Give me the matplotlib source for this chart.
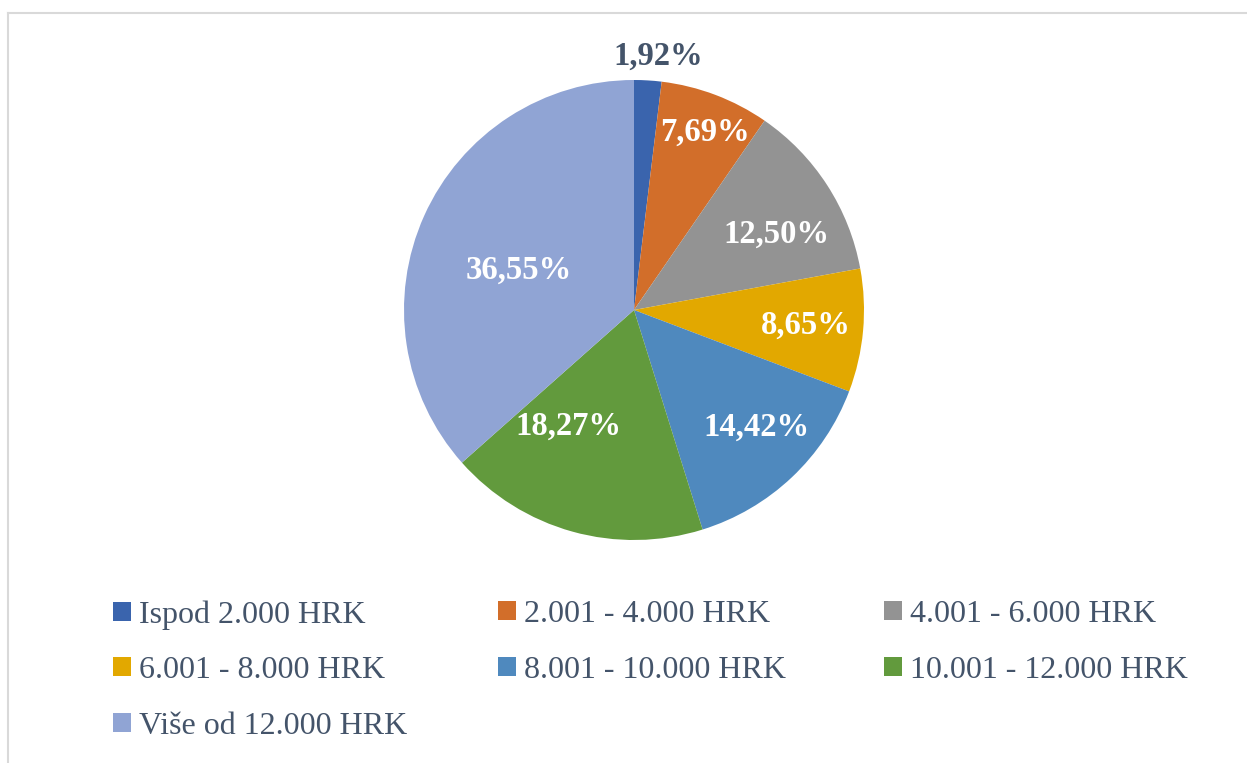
import numpy as np
import matplotlib
matplotlib.use("Agg")
import matplotlib.pyplot as plt
from matplotlib.patches import Patch
from matplotlib.lines import Line2D

# -------------------- 数据 --------------------
categories = ['Ispod 2.000 HRK', '2.001 - 4.000 HRK', '4.001 - 6.000 HRK',
              '6.001 - 8.000 HRK', '8.001 - 10.000 HRK', '10.001 - 12.000 HRK',
              'Više od 12.000 HRK']
shares = [1.92, 7.69, 12.50, 8.65, 14.42, 18.27, 36.55]
colors = ['#3A64AD', '#D26E2A', '#939393', '#E2A800', '#4F89BE', '#629A3D', '#90A4D4']

# položaj oznaka (udaljenost od središta, pomak kuta u stupnjevima)
label_r = [1.11, 0.83, 0.70, 0.75, 0.735, 0.58, 0.53]
label_dang = [2, 1, 5, 0, -3, 14, -5]

plt.rcParams['font.family'] = ['Liberation Serif', 'DejaVu Serif']
text_col = '#44546A'

W, H = 1247, 763
fig = plt.figure(figsize=(W / 100, H / 100), dpi=100)

# okvir
fig.add_artist(Line2D([8 / W, 1], [1 - 13 / H, 1 - 13 / H], color='#D9D9D9', lw=1.5))
fig.add_artist(Line2D([8 / W, 8 / W], [0, 1 - 13 / H], color='#D9D9D9', lw=1.5))

cx, cy, r = 634, H - 310, 230
ax = fig.add_axes([(cx - r) / W, (cy - r) / H, 2 * r / W, 2 * r / H])
wedges, _ = ax.pie(shares, colors=colors, startangle=90, counterclock=False,
                   radius=1, wedgeprops=dict(linewidth=0))
ax.set_xlim(-1, 1)
ax.set_ylim(-1, 1)
ax.set_aspect('equal')
ax.axis('off')

cum = np.cumsum([0] + shares[:-1])
for i, (v, c0) in enumerate(zip(shares, cum)):
    ang = np.deg2rad((c0 + v / 2) / 100 * 360 + label_dang[i])
    x = label_r[i] * np.sin(ang)
    y = label_r[i] * np.cos(ang)
    txt = f"{v:.2f}%".replace('.', ',')
    col = text_col if i == 0 else 'white'
    ax.text(x, y, txt, ha='center', va='center', fontsize=23.5,
            fontweight='bold', color=col, clip_on=False)

# legenda (tri stupca, redoslijed po redovima)
handles = [Patch(facecolor=c, edgecolor='none') for c in colors]
col_x = [113, 498, 884]
for j in range(3):
    idx = list(range(j, len(categories), 3))
    leg = fig.legend([handles[k] for k in idx], [categories[k] for k in idx],
                     loc='upper left', bbox_to_anchor=(col_x[j] / W, 1 - 600 / H),
                     frameon=False, fontsize=23, handlelength=0.55, handleheight=0.55,
                     handletextpad=0.25, labelspacing=0.83, borderpad=0, borderaxespad=0)
    for t in leg.get_texts():
        t.set_color(text_col)

fig.savefig('out.png', dpi=100)
